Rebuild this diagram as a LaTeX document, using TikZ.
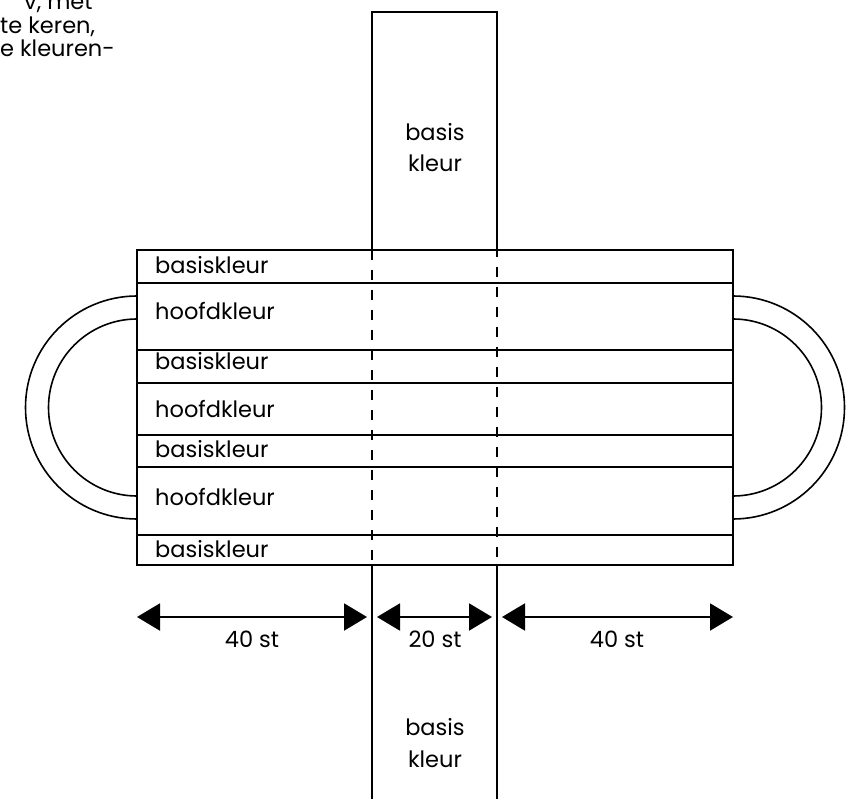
\documentclass[tikz,border=0pt]{standalone}
\usepackage{fontspec}
\setmainfont{Poppins}
\usetikzlibrary{arrows.meta}
\begin{document}
\begin{tikzpicture}[x=1pt,y=-1pt,
  ln/.style={line width=1.6pt},
  dsh/.style={line width=1.6pt,dash pattern=on 10pt off 10pt},
  lbl/.style={font=\fontsize{22.5}{27}\selectfont,inner sep=0pt},
  dim/.style={line width=2pt,{Triangle[length=23pt,width=27pt]}-{Triangle[length=23pt,width=27pt]}}
]
\useasboundingbox (0,0) rectangle (859,799);
\clip (0,0) rectangle (859,799);
% cut-off intro text
\node[lbl,anchor=base west] (t1) at (24,10) {v, met};
\node[lbl,anchor=base west] (t2) at (0,34) {te keren,};
\node[lbl,anchor=base west] (t3) at (0,57) {e kleuren-};
% top strip
\draw[ln] (372,250) -- (372,12) -- (497,12) -- (497,250);
% bottom strip
\draw[ln] (372,565) -- (372,805);
\draw[ln] (497,565) -- (497,805);
% main rectangle and rows
\draw[ln] (137,250) rectangle (733,565);
\foreach \yy in {283,350,383,435,467,535}
  \draw[ln] (137,\yy) -- (733,\yy);
% dashed continuation
\draw[dsh] (372,250) -- (372,565);
\draw[dsh,dash phase=3pt] (497,250) -- (497,565);
% handles
\draw[ln] (137,296) arc[start angle=270,end angle=90,radius=111.5];
\draw[ln] (137,319) arc[start angle=270,end angle=90,radius=88.5];
\draw[ln] (733,296) arc[start angle=270,end angle=450,radius=111.5];
\draw[ln] (733,319) arc[start angle=270,end angle=450,radius=88.5];
% row labels
\node[lbl,anchor=base west] (r1) at (155,274) {basiskleur};
\node[lbl,anchor=base west] (r2) at (155,320) {hoofdkleur};
\node[lbl,anchor=base west] (r3) at (155,370) {basiskleur};
\node[lbl,anchor=base west] (r4) at (155,417) {hoofdkleur};
\node[lbl,anchor=base west] (r5) at (155,457) {basiskleur};
\node[lbl,anchor=base west] (r6) at (155,505) {hoofdkleur};
\node[lbl,anchor=base west] (r7) at (155,557) {basiskleur};
% strip labels
\node[lbl,anchor=base] (b1) at (435,141) {basis};
\node[lbl,anchor=base] (b2) at (435,172) {kleur};
\node[lbl,anchor=base] (b3) at (435,735) {basis};
\node[lbl,anchor=base] (b4) at (435,767) {kleur};
% dimension arrows
\coordinate (a1) at (137,617);
\coordinate (a2) at (367,617);
\coordinate (a3) at (377,617);
\coordinate (a4) at (492,617);
\coordinate (a5) at (502,617);
\coordinate (a6) at (733,617);
\draw[dim] (a1) -- (a2);
\draw[dim] (a3) -- (a4);
\draw[dim] (a5) -- (a6);
\node[lbl,anchor=base] (d1) at (252,647) {40 st};
\node[lbl,anchor=base] (d2) at (435,647) {20 st};
\node[lbl,anchor=base] (d3) at (617,647) {40 st};
\end{tikzpicture}
\end{document}
